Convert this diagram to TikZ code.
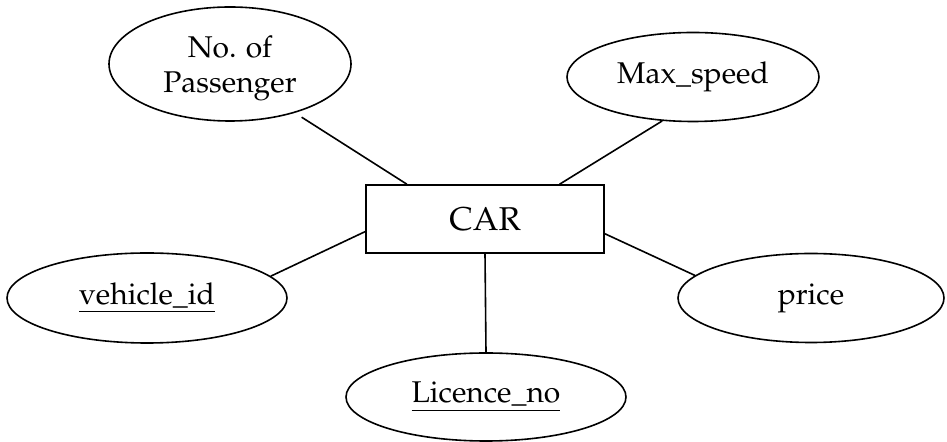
\documentclass[tikz,border=0pt]{standalone}
\usepackage[T1]{fontenc}
\usepackage{mathpazo}
\usepackage{tikz}
\usetikzlibrary{calc, shapes.geometric, positioning}

\begin{document}
\begin{tikzpicture}[x=0.5pt, y=-0.5pt,
    entity/.style={draw, line width=0.8pt, rectangle, minimum width=119pt,
        minimum height=34pt, font=\fontsize{16.5}{19}\selectfont},
    attrib/.style={draw, line width=0.8pt, ellipse, inner sep=0pt,
        align=center, font=\fontsize{15}{17.5}\selectfont},
    link/.style={line width=0.8pt}]

    % =================================================================
    % 1. KHUNG HINH
    % =================================================================
    \useasboundingbox (0,0) rectangle (947,442);

    % =================================================================
    % 2. THUC THE VA CAC THUOC TINH
    % =================================================================
    \node[entity] (car) at (485,219) {CAR};

    \node[attrib, minimum width=121pt, minimum height=57pt] (passenger)
        at (230,64) {};
    \node[align=center, font=\fontsize{15}{17.5}\selectfont] (passtext)
        at (230,68) {No. of\\Passenger};
    \node[attrib, minimum width=126pt, minimum height=44.5pt] (speed)
        at (693,77) {Max\_speed};
    \node[attrib, minimum width=140pt, minimum height=45pt] (vehicle)
        at (147,298) {\underline{vehicle\_id}};
    \node[attrib, minimum width=133pt, minimum height=44.5pt] (price)
        at (811,298) {price};
    \node[attrib, minimum width=140pt, minimum height=44pt] (licence)
        at (486,397) {\underline{Licence\_no}};

    % =================================================================
    % 3. CAC DUONG NOI
    % =================================================================
    \draw[link, shorten <=4pt] (passenger.-37) -- (car.156);
    \draw[link] (speed.-125) -- (car.25);
    \draw[link] (vehicle.10) -- (car.-174);
    \draw[link] (price.169) -- (car.-7);
    \draw[link] (car.south) -- (licence.north);

\end{tikzpicture}
\end{document}
